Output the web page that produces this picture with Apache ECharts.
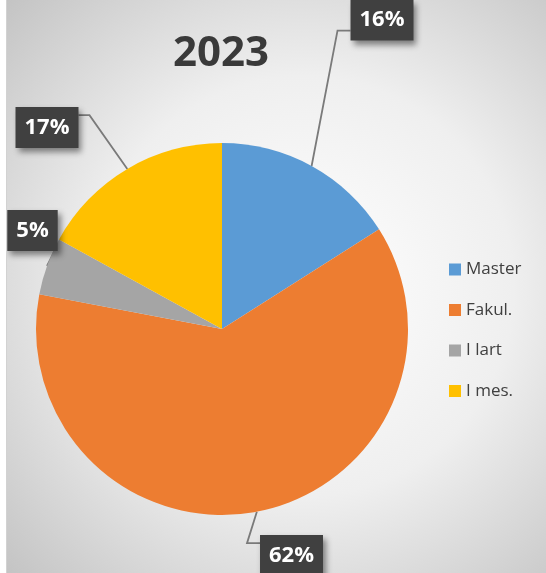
<!DOCTYPE html>
<html>
<head>
<meta charset="utf-8">
<script src="https://cdn.jsdelivr.net/npm/echarts@6/dist/echarts.min.js"></script>
<style>
  html, body { margin: 0; padding: 0; background: #ffffff; }
  #wrap { position: absolute; left: 6px; top: 0; width: 539px; height: 573px; border-left: 1px solid #d2d2d2; }
  #chart { width: 539px; height: 573px; }
</style>
</head>
<body>
<div id="wrap"><div id="chart"></div></div>
<script>
// ---- data ----
const titleText = '2023';
const categories = ['Master', 'Fakul.', 'I lart', 'I mes.'];
const values = [16, 62, 5, 17];
const colors = ['#5b9bd5', '#ed7d31', '#a5a5a5', '#ffc000'];

// ---- label placement (layout only) ----
const labelPos = [
  { cx: 375, cy: 20, side: 'left', frac: 0.76, elbow: 13 },
  { cx: 284.5, cy: 555.5, side: 'left', frac: 0.2, elbow: 13 },
  { cx: 25.5, cy: 230.5, side: 'right', frac: 0.85, elbow: 0 },
  { cx: 40, cy: 127.5, side: 'right', frac: 0.2, elbow: 11 }
];

const chart = echarts.init(document.getElementById('chart'), null, { renderer: 'canvas' });

const option = {
  animation: false,
  backgroundColor: {
    type: 'radial', x: 0.55, y: 0.5, r: 0.78,
    colorStops: [
      { offset: 0, color: '#ffffff' },
      { offset: 0.5, color: '#efefef' },
      { offset: 1, color: '#c2c2c2' }
    ]
  },
  title: {
    text: titleText,
    left: 166, top: 29, padding: 0,
    textStyle: { fontFamily: 'Open Sans', fontSize: 42, fontWeight: 'bold', color: '#3a3a3a', lineHeight: 50 }
  },
  legend: {
    orient: 'vertical',
    left: 442, top: 261, padding: 0,
    itemWidth: 12, itemHeight: 12, itemGap: 23.5,
    icon: 'rect',
    selectedMode: false,
    textStyle: { fontFamily: 'Open Sans', fontSize: 17, color: '#404040' },
    data: categories
  },
  series: [{
    type: 'pie',
    center: [215, 329],
    radius: 186,
    startAngle: 90,
    clockwise: true,
    avoidLabelOverlap: false,
    emphasis: { disabled: true },
    data: categories.map((c, i) => ({ name: c, value: values[i], itemStyle: { color: colors[i] } })),
    label: {
      show: true,
      position: 'outside',
      formatter: p => p.value + '%',
      fontFamily: 'Open Sans',
      fontSize: 22,
      fontWeight: 'bold',
      color: '#ffffff',
      lineHeight: 23,
      padding: [9, 9, 9, 9],
      backgroundColor: '#404040',
      shadowColor: 'rgba(0,0,0,0.45)',
      shadowBlur: 6,
      shadowOffsetX: 3,
      shadowOffsetY: 4
    },
    labelLine: {
      show: true,
      length: 10,
      length2: 10,
      lineStyle: { color: '#7a7a7a', width: 1.8 }
    },
    labelLayout: function (params) {
      const lp = labelPos[params.dataIndex];
      const w = params.labelRect.width, h = params.labelRect.height;
      const left = lp.cx - w / 2, top = lp.cy - h / 2;
      const ay = top + h * lp.frac;
      const ax = lp.side === 'left' ? left : left + w;
      const anchor = params.labelLinePoints ? params.labelLinePoints[0] : [ax, ay];
      let pts;
      if (lp.elbow > 0) {
        const ex = lp.side === 'left' ? ax - lp.elbow : ax + lp.elbow;
        pts = [anchor, [ex, ay], [ax, ay]];
      } else {
        pts = [anchor, [ax, ay]];
      }
      return { x: lp.cx, y: lp.cy, align: 'center', verticalAlign: 'middle', labelLinePoints: pts };
    }
  }]
};
chart.setOption(option);
</script>
</body>
</html>
